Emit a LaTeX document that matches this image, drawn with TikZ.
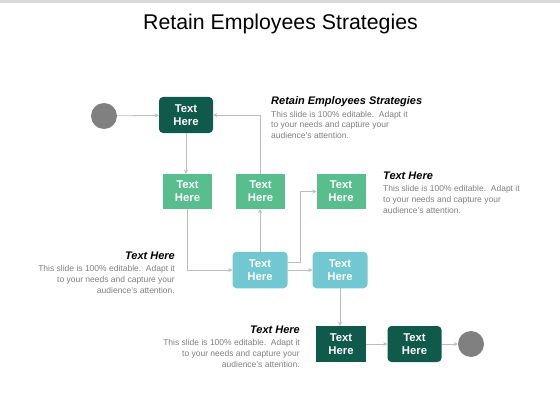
\documentclass[tikz,border=0pt]{standalone}
\usepackage{fontspec}
\setmainfont{Liberation Sans}
\usetikzlibrary{arrows.meta}
\definecolor{darkg}{HTML}{0F5A4B}
\definecolor{greenc}{HTML}{58BE8D}
\definecolor{tealc}{HTML}{72C8D2}
\definecolor{linec}{HTML}{BDBDBD}
\definecolor{bodyc}{HTML}{7F7F7F}
\definecolor{circc}{HTML}{808080}
\definecolor{barc}{HTML}{D9D9D9}
\begin{document}
\begin{tikzpicture}[x=1pt,y=-1pt,
  box/.style={inner sep=0pt, text=white, align=center,
    font=\bfseries\fontsize{11.3}{13.2}\selectfont},
  darkr/.style={box, fill=darkg, rounded corners=4pt, minimum width=54pt, minimum height=36pt},
  darks/.style={box, fill=darkg, minimum width=50pt, minimum height=36pt},
  greenb/.style={box, fill=greenc, minimum width=49pt, minimum height=35pt},
  tealb/.style={box, fill=tealc, rounded corners=4pt, minimum width=55pt, minimum height=36.5pt},
  circ/.style={circle, fill=circc, minimum size=26pt, inner sep=0pt},
  conn/.style={draw=linec, line width=0.8pt, -{Stealth[length=4pt,width=4pt]}},
  head/.style={inner sep=0pt, font=\bfseries\itshape\fontsize{11}{12}\selectfont},
  body/.style={inner sep=0pt, text=bodyc, font=\fontsize{8.5}{10.6}\selectfont},
]
\useasboundingbox (0,0) rectangle (560,420);
\fill[barc] (0,0) rectangle (560,3);
\node[font=\fontsize{21.3}{24}\selectfont, anchor=base, inner sep=0pt] (title) at (280.5,29.5) {Retain Employees Strategies};

\node[circ] (c1) at (104,116) {};
\node[darkr] (A) at (186,115) {Text\\Here};
\node[greenb] (B) at (187.5,191.5) {Text\\Here};
\node[greenb] (C) at (260.5,191.5) {Text\\Here};
\node[greenb] (D) at (341,191.5) {Text\\Here};
\node[tealb] (E) at (260,270) {Text\\Here};
\node[tealb] (F) at (340,270) {Text\\Here};
\node[darks] (G) at (341,344) {Text\\Here};
\node[darkr] (H) at (414.5,344) {Text\\Here};
\node[circ] (c2) at (471,344) {};

\draw[conn] (c1) -- (A);
\draw[conn] (A) -- (A |- B.north);
\draw[conn] (C.north) |- (A.east);
\draw[conn] (B.south) |- (E.west);
\draw[conn] (E.north) -- (E.north |- C.south);
\coordinate (ej) at ([yshift=8pt]E.east);
\coordinate (bx) at (300,230);
\draw[conn] (ej) -- (ej -| bx) |- (D.west);
\draw[conn] (E) -- (F);
\draw[conn] (F.south) -- (F.south |- G.north);
\draw[conn] (G) -- (H);
\draw[conn] (H) -- (c2);

\node[head, anchor=base west] (h1) at (271,105) {Retain Employees Strategies};
\node[body, anchor=north west, align=left] (b1) at (271,111) {This slide is 100\% editable.\ \ Adapt it\\to your needs and capture your\\audience's attention.};

\node[head, anchor=base west] (h2) at (383,179.5) {Text Here};
\node[body, anchor=north west, align=left] (b2) at (383,185.5) {This slide is 100\% editable.\ \ Adapt it\\to your needs and capture your\\audience's attention.};

\node[head, anchor=base east] (h3) at (175,259) {Text Here};
\node[body, anchor=north east, align=right] (b3) at (175,265.5) {This slide is 100\% editable.\ \ Adapt it\\to your needs and capture your\\audience's attention.};

\node[head, anchor=base east] (h4) at (300,333) {Text Here};
\node[body, anchor=north east, align=right] (b4) at (300,339.5) {This slide is 100\% editable.\ \ Adapt it\\to your needs and capture your\\audience's attention.};
\end{tikzpicture}
\end{document}
